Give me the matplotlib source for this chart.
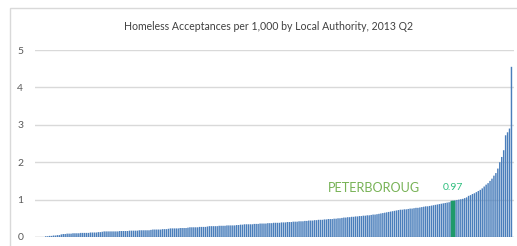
import matplotlib.pyplot as plt
from matplotlib.patches import Rectangle
import numpy as np

# homeless acceptances per 1,000, sorted ascending, one value per local authority
values = [
    0.02, 0.02, 0.03, 0.03, 0.04, 0.04, 0.05, 0.05, 0.07, 0.08,
    0.08, 0.09, 0.09, 0.09, 0.10, 0.10, 0.10, 0.10, 0.11, 0.11,
    0.11, 0.11, 0.11, 0.12, 0.12, 0.12, 0.12, 0.13, 0.13, 0.14,
    0.15, 0.15, 0.15, 0.15, 0.15, 0.15, 0.15, 0.15, 0.16, 0.16,
    0.16, 0.16, 0.16, 0.17, 0.17, 0.17, 0.17, 0.17, 0.18, 0.18,
    0.18, 0.18, 0.18, 0.18, 0.19, 0.20, 0.20, 0.20, 0.20, 0.20,
    0.21, 0.21, 0.21, 0.22, 0.23, 0.23, 0.23, 0.23, 0.23, 0.24,
    0.24, 0.24, 0.24, 0.25, 0.26, 0.26, 0.26, 0.26, 0.26, 0.27,
    0.27, 0.27, 0.27, 0.28, 0.29, 0.29, 0.29, 0.29, 0.29, 0.30,
    0.30, 0.30, 0.30, 0.31, 0.31, 0.31, 0.31, 0.31, 0.32, 0.32,
    0.33, 0.33, 0.34, 0.34, 0.34, 0.34, 0.34, 0.35, 0.35, 0.35,
    0.36, 0.36, 0.36, 0.36, 0.37, 0.37, 0.37, 0.38, 0.38, 0.38,
    0.38, 0.39, 0.39, 0.39, 0.40, 0.40, 0.40, 0.41, 0.41, 0.41,
    0.42, 0.42, 0.42, 0.43, 0.43, 0.44, 0.44, 0.44, 0.45, 0.45,
    0.46, 0.46, 0.46, 0.47, 0.47, 0.48, 0.48, 0.48, 0.49, 0.49,
    0.50, 0.50, 0.51, 0.52, 0.52, 0.53, 0.53, 0.54, 0.54, 0.55,
    0.55, 0.56, 0.56, 0.57, 0.57, 0.58, 0.58, 0.59, 0.60, 0.60,
    0.61, 0.62, 0.63, 0.64, 0.65, 0.66, 0.67, 0.68, 0.69, 0.70,
    0.71, 0.72, 0.73, 0.73, 0.74, 0.74, 0.75, 0.76, 0.76, 0.77,
    0.78, 0.78, 0.79, 0.80, 0.81, 0.82, 0.82, 0.83, 0.84, 0.85,
    0.86, 0.87, 0.88, 0.89, 0.90, 0.91, 0.92, 0.93, 0.95, 0.97,
    0.98, 0.99, 1.00, 1.01, 1.02, 1.04, 1.06, 1.10, 1.12, 1.15,
    1.17, 1.20, 1.23, 1.26, 1.30, 1.35, 1.40, 1.44, 1.50, 1.56,
    1.64, 1.71, 1.83, 2.00, 2.14, 2.32, 2.72, 2.80, 2.90, 4.55,
]
highlight_name = "PETERBOROUG"
highlight_idx = 209
yticks = [0, 1, 2, 3, 4, 5]
title = "Homeless Acceptances per 1,000 by Local Authority, 2013 Q2"

plt.rcParams['font.family'] = ['Lato', 'DejaVu Sans']

fig = plt.figure(figsize=(5.17, 2.46), dpi=100)
# outer chart frame (right/bottom edges are cut off in the original)
fig.patches.append(Rectangle((10 / 517, -0.1), 1.2, (246 - 8) / 246 + 0.1,
                             transform=fig.transFigure, fill=False,
                             edgecolor="#d9d9d9", linewidth=1))

ax = fig.add_axes([35 / 517, 9 / 246, 479 / 517, 187 / 246])
x = np.arange(len(values))
bars = ax.bar(x, values, width=0.74, color="#4a7ebb", linewidth=0, zorder=3)
for b in bars:
    b.set_snap(False)
# highlighted authority drawn wider on top
hv = values[highlight_idx]
hb = ax.bar([highlight_idx], [hv], width=2.3, color="#1f9a6a", linewidth=0, zorder=4)
hb[0].set_snap(False)

ax.set_xlim(-5.5, len(values) + 0.3)
ax.set_ylim(0, 5)
ax.set_yticks(yticks)
ax.set_xticks([])
ax.grid(axis="y", color="#d9d9d9", linewidth=1, zorder=0)
for s in ["top", "right", "left", "bottom"]:
    ax.spines[s].set_visible(False)
ax.axhline(0, color="#d0d0d0", linewidth=1, zorder=2)
ax.tick_params(axis="y", length=0, pad=8.5, labelsize=7.5, labelcolor="#595959")

fig.text(269 / 517, 1 - 27 / 246, title, ha="center", va="center",
         fontsize=7.6, color="#404040")

ax.annotate(f"{hv:.2f}", (highlight_idx, hv), xytext=(0, 9.5),
            textcoords="offset points", ha="center", va="center",
            fontsize=7.5, color="#2fbf7f")
ax.annotate(highlight_name, (highlight_idx, hv), xytext=(-23.5, 9.5),
            textcoords="offset points", ha="right", va="center",
            fontsize=9.1, color="#77b255")

fig.savefig("out.png", dpi=100)
